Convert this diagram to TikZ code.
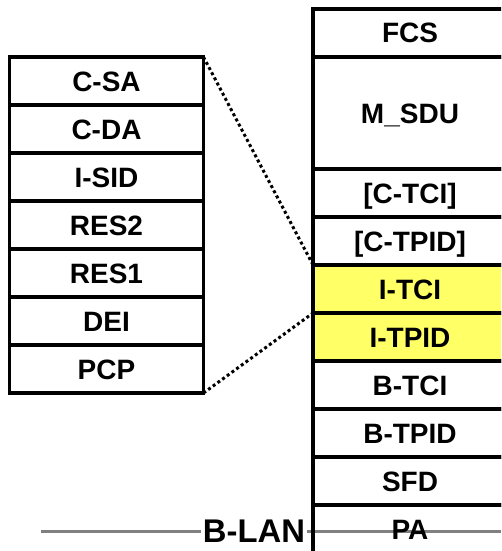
\documentclass[tikz,border=0pt]{standalone}
\usepackage{fontspec}
\setmainfont{Liberation Sans}
\usepackage{xcolor}
\usetikzlibrary{positioning}
\definecolor{hilite}{RGB}{255,255,102}
\definecolor{langray}{RGB}{128,128,128}
\tikzstyle{field} = [rectangle, draw=black, line width=3.5pt, minimum width=194pt, minimum height=48pt, outer sep=0pt, inner sep=0pt, text height=20pt, text depth=0pt, text centered, font=\fontsize{28}{32}\selectfont\bfseries]
\tikzstyle{payload} = [field, minimum height=112pt]
\tikzstyle{itag} = [field, fill=hilite]
\tikzstyle{zoomline} = [line width=3pt, dash pattern=on 3pt off 2.8pt]
\tikzstyle{lanline} = [line width=3pt, draw=langray]

\begin{document}
\begin{tikzpicture}[x=1pt,y=-1pt,node distance=0pt]
	\clip (0,0) rectangle (501,551);

	% the bridged LAN
	\node (blan) [inner xsep=2pt, inner ysep=0pt, text height=23.5pt, text depth=0pt, font=\fontsize{32.8}{38}\selectfont\bfseries] at (254,531) {B-LAN};
	\coordinate (lanL) at (41,531);
	\coordinate (lanR) at (501,531);
	\draw [lanline] (lanL) -- (blan.west);
	\draw [lanline] (blan.east) -- (lanR);

	% frame on the wire
	\node (fcs) [field] at (410,33) {FCS};
	\node (msdu) [payload, below=of fcs] {M\_SDU};
	\node (ctci) [field, below=of msdu] {[C-TCI]};
	\node (ctpid) [field, below=of ctci] {[C-TPID]};
	\node (itci) [itag, below=of ctpid] {I-TCI};
	\node (itpid) [itag, below=of itci] {I-TPID};
	\node (btci) [field, below=of itpid] {B-TCI};
	\node (btpid) [field, below=of btci] {B-TPID};
	\node (sfd) [field, below=of btpid] {SFD};
	\node (pa) [field, below=of sfd] {PA};

	% I-TCI fields
	\node (csa) [field] at (106.5,81) {C-SA};
	\node (cda) [field, below=of csa] {C-DA};
	\node (isid) [field, below=of cda] {I-SID};
	\node (res2) [field, below=of isid] {RES2};
	\node (res1) [field, below=of res2] {RES1};
	\node (dei) [field, below=of res1] {DEI};
	\node (pcp) [field, below=of dei] {PCP};

	\draw [zoomline] (csa.north east) -- (itci.north west);
	\draw [zoomline] (pcp.south east) -- (itci.south west);
\end{tikzpicture}
\end{document}
